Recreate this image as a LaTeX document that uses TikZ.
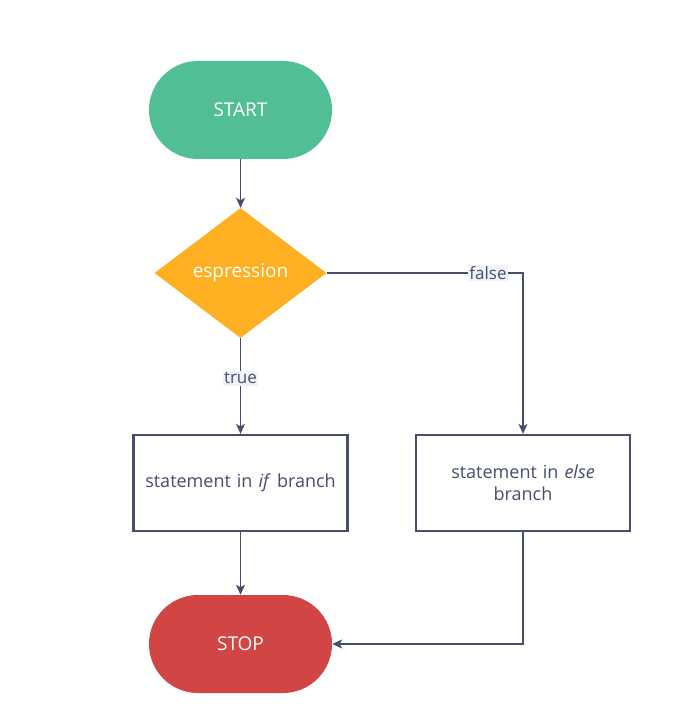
\documentclass[tikz,border=0pt]{standalone}
\usepackage{fontspec}
\setmainfont{Open Sans}
\usetikzlibrary{shapes.geometric,arrows.meta}
\definecolor{startgreen}{HTML}{52BE95}
\definecolor{decorange}{HTML}{FEB022}
\definecolor{stopred}{HTML}{D14545}
\definecolor{ink}{HTML}{474E6C}
\definecolor{labelbg}{HTML}{F0F3FA}
\tikzset{
  terminal/.style={fill=#1, draw=none, rounded corners=49pt, minimum width=183pt, minimum height=98pt, inner sep=0pt, text=white, font=\fontsize{19}{22}\selectfont},
  decision/.style={diamond, fill=decorange, draw=none, minimum width=172pt, minimum height=130pt, inner sep=0pt, text=white, font=\fontsize{19}{22}\selectfont},
  process/.style={draw=ink, line width=2.2pt, fill=white, minimum width=214pt, minimum height=96pt, inner sep=4pt, text=ink, align=center, text width=204pt, font=\fontsize{18}{22}\selectfont},
  conn/.style={draw=ink, line width=1.4pt, -{Stealth[length=10pt,width=9pt,inset=2.5pt]}},
  lbl/.style={fill=labelbg, text=ink, inner sep=1.5pt, font=\fontsize{17}{19}\selectfont}
}
\begin{document}
\begin{tikzpicture}[x=1pt,y=-1pt]
\useasboundingbox (0,0) rectangle (683,722);
\node[terminal=startgreen] (start) at (240.5,110) {START};
\node[decision] (expr) at (240.5,273) {espression};
\node[process] (ifb) at (240.5,483) {statement in \textit{if} branch};
\node[process] (elseb) at (523,483) {statement in \textit{else}\\branch};
\node[terminal=stopred] (stop) at (240.5,644) {STOP};
\coordinate (fc) at (523,273);
\coordinate (ec) at (523,644);
\draw[conn] (start) -- (expr);
\draw[conn] (expr) -- node[lbl, pos=0.42] {true} (ifb);
\draw[conn] (expr.east) -- (fc) -- (elseb.north);
\node[lbl] at (488,273) {false};
\draw[conn] (ifb) -- (stop);
\draw[conn] (elseb.south) -- (ec) -- (stop.east);
\end{tikzpicture}
\end{document}
